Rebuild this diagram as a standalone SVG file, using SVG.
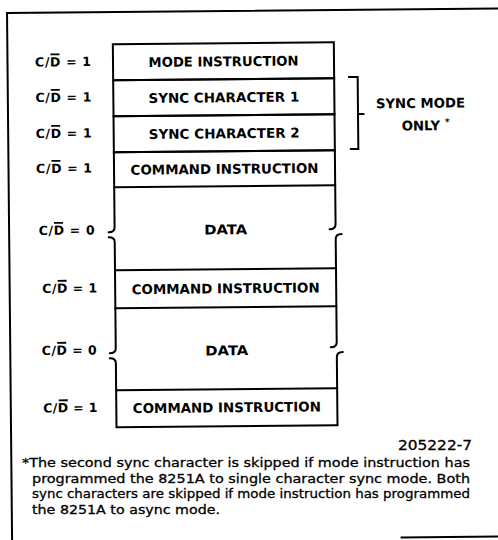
<svg xmlns="http://www.w3.org/2000/svg" width="498" height="540" viewBox="0 0 498 540">
<style>
.frame{fill:none;stroke:#000;stroke-width:2}
.box{fill:none;stroke:#000;stroke-width:2}
.brk{fill:none;stroke:#000;stroke-width:2;stroke-linecap:round}
.t{font-family:"DejaVu Sans","Liberation Sans",Arial,sans-serif;font-weight:bold;font-size:13.3px;fill:#000;text-anchor:middle}
.cd{font-family:"DejaVu Sans","Liberation Sans",Arial,sans-serif;font-weight:bold;font-size:12.5px;fill:#000}
.ob{stroke:#000;stroke-width:1.8}
.note{font-family:"DejaVu Sans","Liberation Sans",Arial,sans-serif;font-size:13px;fill:#000;stroke:#000;stroke-width:0.3}
</style>
<rect width="498" height="540" fill="#fff"/>
<g transform="rotate(-0.55 249 270)">
  <g id="frame">
    <path class="frame" d="M9.5 548 V10.8 H506"/>
    <path class="frame" d="M398 539 H506"/>
  </g>

  <g id="row-mode">
    <text class="cd" x="37" y="64.5" textLength="56" lengthAdjust="spacing">C/D = 1</text><line class="ob" x1="52.5" y1="52.5" x2="61.5" y2="52.5"/>
    <rect class="box" x="115" y="43" width="221" height="36"/>
    <text class="t" x="225.5" y="66" textLength="150" lengthAdjust="spacingAndGlyphs">MODE INSTRUCTION</text>
  </g>
  <g id="row-sync1">
    <text class="cd" x="37" y="100" textLength="56" lengthAdjust="spacing">C/D = 1</text><line class="ob" x1="52.5" y1="88" x2="61.5" y2="88"/>
    <rect class="box" x="115" y="79" width="221" height="36"/>
    <text class="t" x="225.5" y="102" textLength="151" lengthAdjust="spacingAndGlyphs">SYNC CHARACTER 1</text>
  </g>
  <g id="row-sync2">
    <text class="cd" x="37" y="136" textLength="56" lengthAdjust="spacing">C/D = 1</text><line class="ob" x1="52.5" y1="124" x2="61.5" y2="124"/>
    <rect class="box" x="115" y="115" width="221" height="36"/>
    <text class="t" x="225.5" y="138" textLength="151" lengthAdjust="spacingAndGlyphs">SYNC CHARACTER 2</text>
  </g>
  <g id="row-command1">
    <text class="cd" x="37" y="171" textLength="56" lengthAdjust="spacing">C/D = 1</text><line class="ob" x1="52.5" y1="159" x2="61.5" y2="159"/>
    <rect class="box" x="115" y="151" width="221" height="35"/>
    <text class="t" x="225.5" y="173.5" textLength="188" lengthAdjust="spacingAndGlyphs">COMMAND INSTRUCTION</text>
  </g>
  <g id="row-data1">
    <text class="cd" x="39" y="233" textLength="56" lengthAdjust="spacing">C/D = 0</text><line class="ob" x1="54.5" y1="221" x2="63.5" y2="221"/>
    <path class="brk" d="M115 186 V226 c0 3 -2 5 -6 5"/>
    <path class="brk" d="M109 236 c4 0 6 2 6 5 V269"/>
    <path class="brk" d="M336 186 V225 c0 3 -2 5 -6 5"/>
    <path class="brk" d="M342 235 c-4 0 -6 2 -6 5 V269"/>
    <text class="t" x="226" y="234" textLength="43" lengthAdjust="spacingAndGlyphs">DATA</text>
  </g>
  <g id="row-command2">
    <text class="cd" x="42" y="291" textLength="55" lengthAdjust="spacing">C/D = 1</text><line class="ob" x1="57.5" y1="279" x2="66.5" y2="279"/>
    <rect class="box" x="115" y="269" width="221" height="38"/>
    <text class="t" x="225.5" y="293" textLength="188" lengthAdjust="spacingAndGlyphs">COMMAND INSTRUCTION</text>
  </g>
  <g id="row-data2">
    <text class="cd" x="41" y="353" textLength="55" lengthAdjust="spacing">C/D = 0</text><line class="ob" x1="56.5" y1="341" x2="65.5" y2="341"/>
    <path class="brk" d="M115 307 V347 c0 3 -2 5 -6 5"/>
    <path class="brk" d="M109 357 c4 0 6 2 6 5 V389"/>
    <path class="brk" d="M336 307 V343 c0 3 -2 5 -6 5"/>
    <path class="brk" d="M342 353 c-4 0 -6 2 -6 5 V389"/>
    <text class="t" x="226" y="355" textLength="43" lengthAdjust="spacingAndGlyphs">DATA</text>
  </g>
  <g id="row-command3">
    <text class="cd" x="42" y="410.5" textLength="54" lengthAdjust="spacing">C/D = 1</text><line class="ob" x1="57.5" y1="398.5" x2="66.5" y2="398.5"/>
    <rect class="box" x="115" y="389" width="221" height="37"/>
    <text class="t" x="225.5" y="412" textLength="188" lengthAdjust="spacingAndGlyphs">COMMAND INSTRUCTION</text>
  </g>

  <g id="connectors">
    <path class="box" d="M350 78 H359.5 V150 H351 M359.5 115 H366"/>
  </g>
  <g id="sync-note">
    <text class="t" x="422" y="109.5" textLength="89" lengthAdjust="spacingAndGlyphs">SYNC MODE</text>
    <text class="t" x="403" y="132" style="text-anchor:start">ONLY<tspan dx="5" dy="-5" style="font-size:9px">*</tspan></text>
  </g>
</g>

<g id="footnote">
  <text class="note" x="398" y="450" textLength="74" lengthAdjust="spacingAndGlyphs" style="font-size:13.5px">205222-7</text>
  <text class="note" x="22" y="467" textLength="448" lengthAdjust="spacingAndGlyphs">*The second sync character is skipped if mode instruction has</text>
  <text class="note" x="32" y="482.5" textLength="438" lengthAdjust="spacingAndGlyphs">programmed the 8251A to single character sync mode. Both</text>
  <text class="note" x="32" y="498" textLength="438" lengthAdjust="spacingAndGlyphs">sync characters are skipped if mode instruction has programmed</text>
  <text class="note" x="32" y="514" textLength="188" lengthAdjust="spacingAndGlyphs">the 8251A to async mode.</text>
</g>
</svg>
